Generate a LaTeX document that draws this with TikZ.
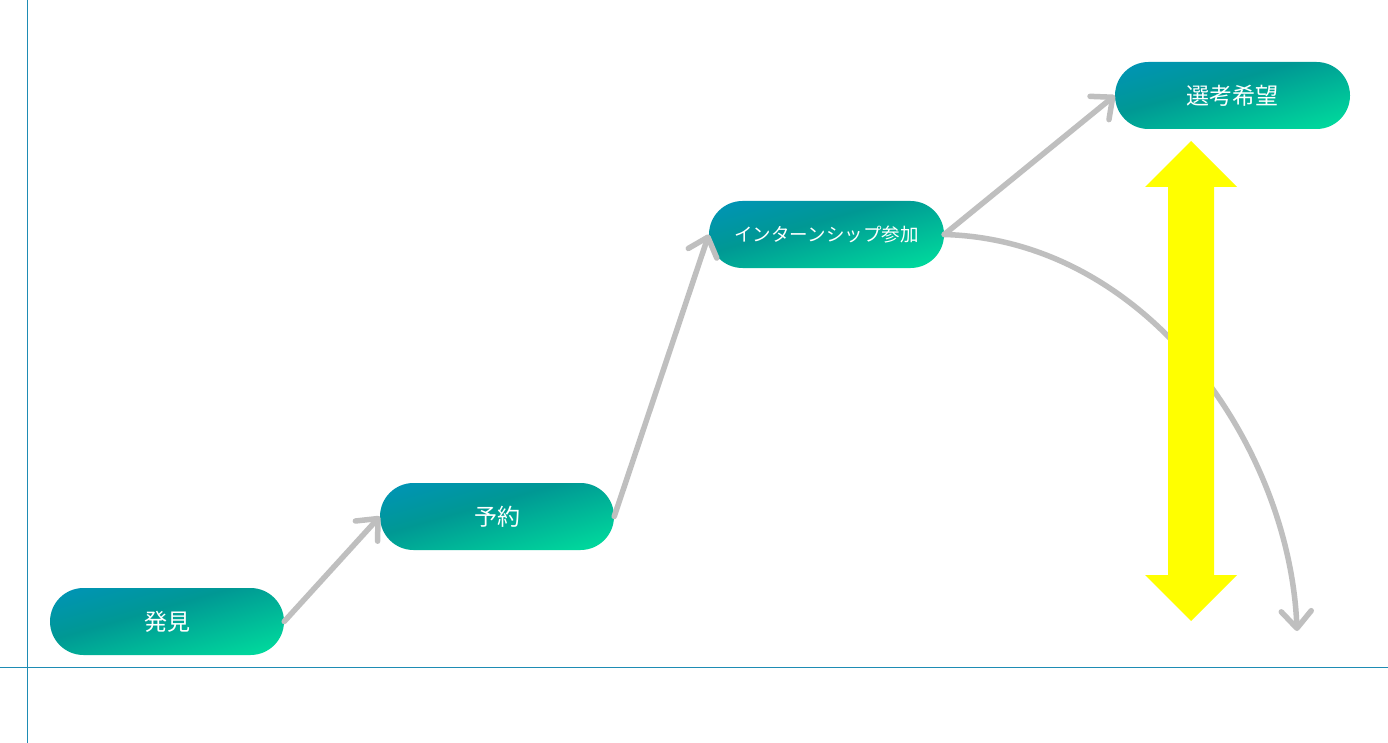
\documentclass[tikz,border=0pt]{standalone}
\usepackage{fontspec}
\newfontfamily\jpfont{Noto Sans CJK JP}
\usetikzlibrary{arrows.meta}
\definecolor{axisblue}{RGB}{30,140,180}
\definecolor{gtop}{RGB}{0,145,205}
\definecolor{gmid}{RGB}{0,152,148}
\definecolor{gbot}{RGB}{0,245,160}
\definecolor{arrowgray}{RGB}{191,191,191}
\definecolor{pureyellow}{RGB}{255,255,0}
\pgfdeclareverticalshading{pillshade}{100bp}{color(0bp)=(gbot); color(32bp)=(gbot);
  color(53bp)=(gmid); color(69bp)=(gtop); color(100bp)=(gtop)}
\tikzset{
  pill/.style={rectangle, rounded corners=33.5pt, minimum width=234pt, minimum height=67pt,
    inner sep=0pt, text=white, font=\jpfont\fontsize{23}{27}\selectfont,
    path picture={
      \shade[sharp corners, shading=pillshade, shading angle=16]
        ([shift={(-122pt,-122pt)}]path picture bounding box.center)
        rectangle ([shift={(122pt,122pt)}]path picture bounding box.center);
    }},
  flow/.style={draw=arrowgray, line width=5.5pt, line cap=round,
    -{Straight Barb[length=17pt,width=30pt,round]}},
}
\begin{document}
\begin{tikzpicture}[x=1pt,y=-1pt]
\useasboundingbox (0,0) rectangle (1388,743);
\fill[white] (0,0) rectangle (1388,743);
% axes
\coordinate (vt) at (27,0);
\coordinate (vb) at (27,743);
\coordinate (hl) at (0,667);
\coordinate (hr) at (1388,667);
\draw[axisblue, line width=1pt] (vt) -- (vb);
\draw[axisblue, line width=1pt] (hl) -- (hr);
% nodes
\node[pill] (a) at (167,621.5) {発見};
\node[pill] (b) at (497,516.5) {予約};
\node[pill, minimum width=235pt, font=\jpfont\fontsize{18.5}{22}\selectfont] (c) at (826.5,234.5) {インターンシップ参加};
\node[pill, minimum width=235pt] (d) at (1232.5,95.5) {選考希望};
\coordinate (e) at (1297,631);
% connectors
\draw[flow] (a.east) -- (b.west);
\draw[flow] (b.east) -- (c.west);
\draw[flow] (c.east) -- (d.west);
\draw[flow] (c.east) .. controls (1150,240) and (1290,450) .. (e);
% yellow double arrow
\fill[pureyellow] (1191,141) -- (1237,187) -- (1214,187) -- (1214,575) -- (1237,575)
  -- (1191,621) -- (1145,575) -- (1168,575) -- (1168,187) -- (1145,187) -- cycle;
\end{tikzpicture}
\end{document}
